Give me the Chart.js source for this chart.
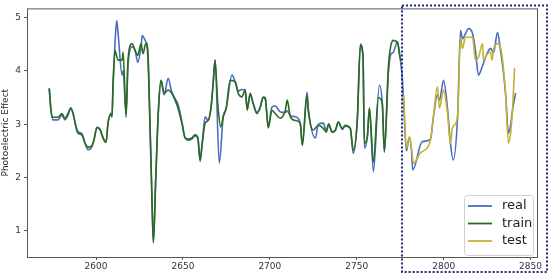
<!DOCTYPE html>
<html>
<head>
<meta charset="utf-8">
<script src="https://cdn.jsdelivr.net/npm/chart.js@4"></script>
<style>
  html, body { margin: 0; padding: 0; background: #fff; }
  #wrap { width: 550px; height: 275px; }
</style>
</head>
<body>
<div id="wrap"><canvas id="chart" width="550" height="275"></canvas></div>
<script>
// Values (x = sample index, y = photoelectric effect)
const trainX = [2573.1, 2574.1, 2575.2, 2578.1, 2580.4, 2582.1, 2583.9, 2585.4, 2586.8, 2588.5,
    2589.6, 2591.9, 2593.7, 2595.4, 2597.7, 2598.8, 2600.6, 2602.3, 2604.0, 2605.8,
    2606.9, 2608.6, 2609.2, 2609.8, 2610.9, 2612.7, 2615.0, 2615.6, 2617.3, 2618.4,
    2620.7, 2622.5, 2624.0, 2625.9, 2627.1, 2628.6, 2629.8, 2631.1, 2632.1, 2633.0,
    2634.4, 2635.9, 2637.4, 2639.2, 2641.5, 2643.6, 2645.5, 2647.2, 2649.4, 2651.3,
    2653.0, 2655.1, 2657.0, 2658.6, 2659.9, 2661.1, 2662.8, 2664.5, 2666.2, 2667.4,
    2668.5, 2670.0, 2671.8, 2673.2, 2674.9, 2677.2, 2680.1, 2681.8, 2683.9, 2685.8,
    2687.0, 2688.7, 2690.4, 2692.6, 2694.5, 2696.2, 2697.4, 2699.1, 2701.2, 2703.1,
    2706.0, 2708.9, 2710.0, 2711.8, 2714.6, 2717.5, 2718.7, 2721.4, 2722.1, 2725.0,
    2727.9, 2730.8, 2732.5, 2733.8, 2735.9, 2737.7, 2739.4, 2741.7, 2743.4, 2746.3,
    2748.0, 2750.3, 2752.1, 2753.6, 2754.4, 2756.1, 2757.3, 2759.6, 2762.4, 2764.7,
    2765.9, 2768.2, 2771.1, 2773.4, 2775.1, 2776.3];
const trainY = [3.67, 3.26, 3.13, 3.13, 3.20, 3.11, 3.20, 3.30, 3.20, 2.94,
    2.83, 2.80, 2.64, 2.57, 2.60, 2.70, 2.94, 2.90, 2.74, 2.66,
    3.02, 3.20, 3.14, 3.77, 4.38, 4.20, 4.20, 4.35, 3.13, 4.20,
    4.51, 4.38, 4.29, 4.51, 4.32, 4.51, 4.29, 2.94, 1.71, 0.78,
    2.01, 3.26, 3.82, 3.58, 3.64, 3.58, 3.45, 3.30, 3.02, 2.74,
    2.72, 2.74, 2.80, 2.74, 2.33, 2.64, 3.02, 3.07, 3.32, 3.77,
    4.20, 3.40, 2.95, 3.14, 3.30, 3.82, 3.79, 3.58, 3.51, 3.64,
    3.26, 3.58, 3.39, 3.20, 3.32, 3.51, 3.49, 2.93, 3.26, 3.20,
    3.11, 3.26, 3.45, 3.14, 3.07, 3.02, 2.60, 3.54, 3.26, 2.89,
    2.98, 2.92, 2.85, 3.00, 2.85, 2.89, 3.04, 2.92, 2.98, 2.92,
    2.51, 3.07, 4.48, 4.26, 2.64, 2.76, 3.30, 2.29, 3.50, 3.39,
    2.48, 4.07, 4.57, 4.53, 4.23, 4.20];

const realX = [2573.1, 2574.1, 2575.2, 2578.1, 2580.4, 2582.1, 2583.9, 2585.4, 2586.8, 2588.5,
    2589.6, 2591.9, 2593.7, 2595.4, 2597.7, 2598.8, 2600.6, 2602.3, 2604.0, 2605.8,
    2606.9, 2608.6, 2609.2, 2609.8, 2610.9, 2611.9, 2612.7, 2615.0, 2615.6, 2617.3,
    2618.4, 2620.7, 2622.5, 2624.0, 2625.9, 2626.6, 2628.6, 2629.8, 2631.1, 2632.1,
    2633.0, 2634.4, 2635.9, 2637.4, 2639.2, 2641.5, 2643.6, 2645.5, 2647.2, 2649.4,
    2651.3, 2653.0, 2655.1, 2657.0, 2658.6, 2659.9, 2661.1, 2662.8, 2664.5, 2666.2,
    2667.4, 2668.5, 2670.9, 2673.2, 2674.9, 2678.2, 2680.1, 2681.8, 2683.9, 2685.8,
    2687.0, 2688.7, 2690.4, 2692.6, 2694.5, 2696.2, 2697.4, 2699.1, 2701.2, 2703.1,
    2706.0, 2708.9, 2710.0, 2711.8, 2714.6, 2717.5, 2718.7, 2721.4, 2722.1, 2726.2,
    2727.9, 2730.8, 2732.5, 2733.8, 2735.9, 2737.7, 2739.4, 2741.7, 2743.4, 2746.3,
    2748.0, 2750.3, 2752.1, 2753.6, 2754.4, 2756.1, 2757.3, 2759.6, 2763.0, 2764.7,
    2765.9, 2768.2, 2769.5, 2771.1, 2773.4, 2775.1, 2776.3, 2776.8, 2778.6, 2780.3,
    2781.5, 2782.2, 2787.6, 2792.4, 2794.1, 2796.4, 2797.6, 2799.9, 2802.2, 2803.9,
    2805.5, 2808.0, 2809.7, 2810.8, 2812.6, 2814.3, 2816.6, 2818.3, 2820.0, 2822.4,
    2825.2, 2827.0, 2828.7, 2831.0, 2832.7, 2833.9, 2835.6, 2837.3, 2838.5, 2839.6,
    2841.4];
const realY = [3.67, 3.26, 3.08, 3.08, 3.17, 3.08, 3.17, 3.30, 3.20, 2.96,
    2.86, 2.82, 2.64, 2.52, 2.58, 2.70, 2.94, 2.90, 2.76, 2.66,
    3.02, 3.18, 3.14, 3.70, 4.50, 4.94, 4.70, 3.92, 4.00, 3.20,
    4.10, 4.45, 4.38, 4.16, 4.45, 4.66, 4.55, 4.40, 2.94, 1.71,
    0.78, 2.01, 3.26, 3.82, 3.55, 3.86, 3.60, 3.48, 3.37, 3.05,
    2.74, 2.70, 2.72, 2.78, 2.74, 2.30, 2.64, 3.14, 3.07, 3.32,
    3.77, 4.20, 2.27, 3.14, 3.30, 3.92, 3.79, 3.62, 3.65, 3.64,
    3.30, 3.55, 3.39, 3.22, 3.32, 3.50, 3.46, 2.95, 3.32, 3.34,
    3.23, 3.22, 3.25, 3.16, 3.14, 3.02, 2.62, 3.60, 3.30, 2.74,
    3.00, 3.02, 2.88, 3.00, 2.86, 2.88, 3.04, 2.90, 2.96, 2.92,
    2.45, 3.07, 4.50, 4.28, 2.55, 2.76, 3.30, 2.11, 3.73, 3.39,
    2.48, 3.95, 4.30, 4.35, 4.55, 4.20, 3.82, 3.50, 2.50, 2.76,
    2.50, 2.14, 2.67, 2.72, 3.13, 3.55, 3.45, 3.82, 3.30, 2.64,
    2.33, 3.13, 4.76, 4.60, 4.70, 4.79, 4.70, 4.38, 3.92, 4.10,
    4.34, 4.42, 4.34, 4.72, 4.38, 4.10, 3.58, 2.83, 2.98, 3.26,
    3.58];

const testX = [2777.0, 2778.6, 2780.3, 2781.5, 2782.6, 2786.6, 2792.4, 2794.1, 2796.4, 2797.6,
    2799.9, 2802.2, 2803.9, 2805.1, 2808.0, 2809.7, 2810.8, 2812.6, 2814.3, 2816.6,
    2818.3, 2820.0, 2822.4, 2822.9, 2825.2, 2827.0, 2827.8, 2828.7, 2831.0, 2832.7,
    2833.9, 2835.6, 2837.3, 2838.5, 2839.6, 2840.8];
const testY = [3.55, 2.55, 2.76, 2.55, 2.27, 2.46, 2.70, 3.13, 3.70, 3.30,
    3.64, 3.20, 2.64, 2.94, 3.13, 4.63, 4.42, 4.63, 4.63, 4.63,
    4.20, 4.25, 4.51, 4.20, 4.32, 4.35, 4.20, 4.40, 4.51, 4.44,
    4.20, 3.58, 2.64, 2.83, 3.26, 4.05];

const xTicks = [2600, 2650, 2700, 2750, 2800, 2850];
const yTicks = [1, 2, 3, 4, 5];
const testStart = 2776.2;

const pts = (xs, ys) => xs.map((x, i) => ({ x: x, y: ys[i] }));

// matplotlib-style legend in the lower right corner of the plot
const boxLegend = {
    id: 'boxLegend',
    afterDatasetsDraw(chart) {
        const { ctx, chartArea } = chart;
        const w = 69, h = 60;
        const x0 = chartArea.right - 4 - w, y0 = chartArea.bottom - 2 - h;
        ctx.save();
        ctx.fillStyle = 'rgba(255,255,255,0.85)';
        ctx.strokeStyle = '#d0d0d0';
        ctx.lineWidth = 1;
        ctx.beginPath();
        ctx.roundRect(x0 + 0.5, y0 + 0.5, w, h, 3);
        ctx.fill();
        ctx.stroke();
        ctx.font = '13px "DejaVu Sans"';
        ctx.textBaseline = 'middle';
        chart.data.datasets.forEach((ds, i) => {
            const yy = y0 + 11 + i * 17.5;
            ctx.strokeStyle = ds.borderColor;
            ctx.lineWidth = 1.8;
            ctx.beginPath();
            ctx.moveTo(x0 + 4, yy);
            ctx.lineTo(x0 + 28, yy);
            ctx.stroke();
            ctx.fillStyle = '#222';
            ctx.fillText(ds.label, x0 + 38, yy);
        });
        ctx.restore();
    }
};

// dotted frame around the test part
const testFrame = {
    id: 'testFrame',
    afterDraw(chart) {
        const { ctx, chartArea, scales } = chart;
        const left = Math.round(scales.x.getPixelForValue(testStart));
        ctx.save();
        ctx.strokeStyle = '#1c2a78';
        ctx.lineWidth = 2;
        ctx.setLineDash([2, 2]);
        ctx.strokeRect(left, chartArea.top - 3, chart.width - 3 - left, chart.height - chartArea.top);
        ctx.restore();
    }
};

// full box around the plot like matplotlib spines
const spines = {
    id: 'spines',
    beforeDatasetsDraw(chart) {
        const { ctx, chartArea } = chart;
        ctx.save();
        ctx.strokeStyle = '#555';
        ctx.lineWidth = 1;
        ctx.strokeRect(chartArea.left + 0.5, chartArea.top + 0.5,
            chartArea.right - chartArea.left, chartArea.bottom - chartArea.top);
        ctx.restore();
    }
};

const lineDs = (label, data, color, order) => ({
    label: label,
    data: data,
    borderColor: color,
    borderWidth: 1.6,
    pointRadius: 0,
    fill: false,
    order: order,
    cubicInterpolationMode: 'monotone',
});

new Chart(document.getElementById('chart'), {
    type: 'line',
    data: {
        datasets: [
            lineDs('real', pts(realX, realY), '#4a6cc4', 3),
            lineDs('train', pts(trainX, trainY), '#2b6a1a', 2),
            lineDs('test', pts(testX, testY), '#c4b232', 1),
        ],
    },
    options: {
        responsive: false,
        animation: false,
        devicePixelRatio: 1,
        layout: { padding: { top: 8, right: 13, left: 0, bottom: 0 } },
        plugins: {
            legend: { display: false },
            tooltip: { enabled: false },
        },
        scales: {
            x: {
                type: 'linear',
                min: 2560.3,
                max: 2853.7,
                afterBuildTicks: (s) => { s.ticks = xTicks.map(v => ({ value: v })); },
                grid: { display: true, drawOnChartArea: false, tickLength: 3, color: '#555' },
                border: { display: false },
                ticks: { color: '#333', font: { family: 'DejaVu Sans', size: 9 }, padding: 1, maxRotation: 0,
                    callback: (v) => String(v) },
                afterFit: (s) => { s.height = 18; },
            },
            y: {
                min: 0.51,
                max: 5.17,
                afterBuildTicks: (s) => { s.ticks = yTicks.map(v => ({ value: v })); },
                grid: { display: true, drawOnChartArea: false, tickLength: 3, color: '#555' },
                border: { display: false },
                ticks: { color: '#333', font: { family: 'DejaVu Sans', size: 9 }, padding: 3,
                    callback: (v) => String(v) },
                title: { display: true, text: 'Photoelectric Effect', color: '#222', font: { family: 'DejaVu Sans', size: 9 }, padding: 0 },
                afterFit: (s) => { s.width = 27; },
            },
        },
    },
    plugins: [spines, boxLegend, testFrame],
});
</script>
</body>
</html>
